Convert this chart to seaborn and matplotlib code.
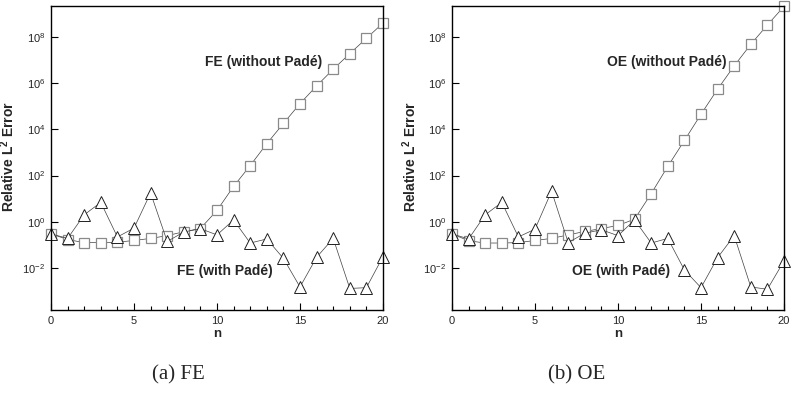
import numpy as np
import pandas as pd
import matplotlib
matplotlib.use("Agg")
import matplotlib.pyplot as plt
import matplotlib.ticker as mticker
import seaborn as sns

# values
n = list(range(21))

fe_without = [0.30, 0.17, 0.125, 0.125, 0.13, 0.155, 0.19, 0.25, 0.37, 0.51,
              3.1, 34, 270, 2400, 1.8e4, 1.3e5, 7.6e5, 4.0e6, 1.9e7, 8.7e7, 4.0e8]
fe_with = [0.30, 0.19, 2.0, 6.9, 0.22, 0.53, 17.7, 0.14, 0.36, 0.50,
           0.27, 1.2, 0.12, 0.18, 0.026, 0.0015, 0.029, 0.19, 0.0013, 0.0014, 0.031]

oe_without = [0.30, 0.15, 0.12, 0.12, 0.125, 0.155, 0.19, 0.27, 0.38, 0.51,
              0.69, 1.3, 16.5, 250, 3300, 4.5e4, 5.5e5, 5.6e6, 4.8e7, 3.3e8, 2.1e9]
oe_with = [0.30, 0.18, 2.0, 6.9, 0.22, 0.48, 21, 0.125, 0.32, 0.45,
           0.25, 1.2, 0.12, 0.19, 0.0082, 0.0014, 0.028, 0.25, 0.0015, 0.0012, 0.020]

panels = [
    ("FE", fe_without, fe_with, "(a) FE"),
    ("OE", oe_without, oe_with, "(b) OE"),
]

sns.set_style("ticks")
plt.rcParams['font.family'] = ['Liberation Sans', 'DejaVu Sans']
plt.rcParams['mathtext.fontset'] = 'custom'
plt.rcParams['mathtext.rm'] = 'Liberation Sans'
plt.rcParams['mathtext.bf'] = 'Liberation Sans:bold'

fig = plt.figure(figsize=(7.91, 3.98), dpi=100)
lefts = [51 / 791, 452 / 791]
ylab_x = [-0.102, -0.099]
txt_pos = [((264, 62), (225, 271)), ((667, 62), (621, 271))]

for i, (name, without, with_, cap) in enumerate(panels):
    ax = fig.add_axes([lefts[i], 1 - 310 / 398, 332 / 791, 304 / 398])
    df = pd.DataFrame({"n": n, "without": without, "with": with_})

    sns.lineplot(data=df, x="n", y="without", ax=ax, color="#404040", lw=0.5,
                 marker="s", markersize=7, markerfacecolor="white",
                 markeredgecolor="#8a8a8a", markeredgewidth=0.9, clip_on=False)
    sns.lineplot(data=df, x="n", y="with", ax=ax, color="#404040", lw=0.5,
                 marker="^", markersize=8, markerfacecolor="white",
                 markeredgecolor="#202020", markeredgewidth=0.7, clip_on=False)

    ax.set_yscale("log")
    ax.set_xlim(0, 20)
    ax.set_ylim(10 ** -3.82, 10 ** 9.34)
    ax.yaxis.set_major_locator(mticker.FixedLocator([1e-2, 1, 1e2, 1e4, 1e6, 1e8]))
    ax.yaxis.set_minor_locator(mticker.NullLocator())
    ax.xaxis.set_major_locator(mticker.MultipleLocator(5))
    ax.xaxis.set_minor_locator(mticker.MultipleLocator(1))
    ax.tick_params(which="both", direction="in", top=False, right=False,
                   labelsize=8, color="black", width=0.8)
    ax.tick_params(which="major", length=5, pad=4)
    ax.tick_params(which="minor", length=3)
    for sp in ax.spines.values():
        sp.set_linewidth(1.0)
        sp.set_color("black")

    ax.set_xlabel("n", fontsize=9.5, fontweight="bold", labelpad=2)
    ax.set_ylabel("Relative L$^{\\mathbf{2}}$ Error", fontsize=10, fontweight="bold")
    ax.yaxis.set_label_coords(ylab_x[i], 0.505)

    (x1, y1), (x2, y2) = txt_pos[i]
    fig.text(x1 / 791, 1 - y1 / 398, f"{name} (without Padé)", fontsize=10,
             fontweight="bold", ha="center", va="center")
    fig.text(x2 / 791, 1 - y2 / 398, f"{name} (with Padé)", fontsize=10,
             fontweight="bold", ha="center", va="center")
    fig.text([178, 577][i] / 791, 1 - 375 / 398, cap, fontsize=15,
             family="Liberation Serif", ha="center", va="center")

fig.savefig("out.png", dpi=100)
